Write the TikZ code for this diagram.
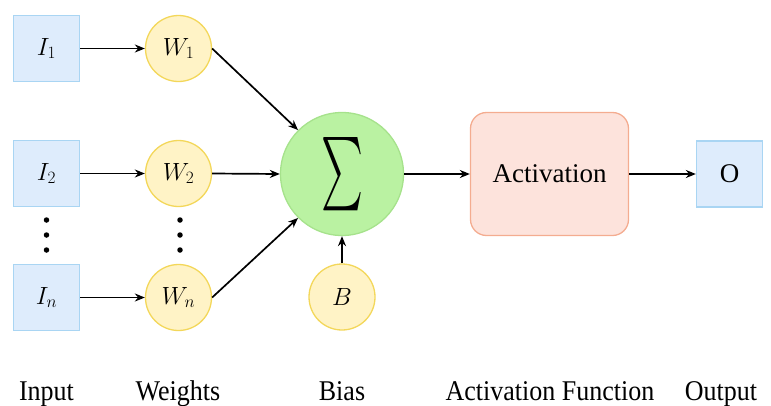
\documentclass[tikz,border=0pt]{standalone}
\usepackage{fontspec}
\setmainfont{Liberation Serif}
\usetikzlibrary{arrows.meta}
\definecolor{bfill}{HTML}{DEECFC}
\definecolor{bdraw}{HTML}{A9D5F3}
\definecolor{yfill}{HTML}{FFF3C6}
\definecolor{ydraw}{HTML}{F3D75A}
\definecolor{gfill}{HTML}{BAF2A2}
\definecolor{gdraw}{HTML}{A6E28C}
\definecolor{rfill}{HTML}{FDE3DC}
\definecolor{rdraw}{HTML}{F4AC90}
\tikzset{
  x=1pt, y=-1pt,
  inbox/.style={draw=bdraw, fill=bfill, line width=1.3pt, minimum width=66pt, minimum height=66pt, inner sep=0pt, font=\fontsize{25}{25}\selectfont},
  wcirc/.style={circle, draw=ydraw, fill=yfill, line width=1.3pt, minimum size=66pt, inner sep=0pt, font=\fontsize{25}{25}\selectfont},
  scirc/.style={circle, draw=gdraw, fill=gfill, line width=1.3pt, minimum size=123pt, inner sep=0pt},
  actbox/.style={draw=rdraw, fill=rfill, line width=1.3pt, rounded corners=16pt, minimum width=158pt, minimum height=123pt, inner sep=0pt, font=\fontsize{27}{27}\selectfont},
  lbl/.style={anchor=base, inner sep=0pt, font=\fontsize{26}{26}\selectfont},
  arr/.style={-{Stealth[length=10pt,width=8pt]}, line width=1.7pt, black},
  dotc/.style={circle, fill=black, inner sep=0pt, minimum size=5.5pt},
}
\begin{document}
\begin{tikzpicture}
\useasboundingbox (0,0) rectangle (771,405);
\node[inbox] (I1) at (46.5,48.5) {$I_1$};
\node[inbox] (I2) at (46.5,173.5) {$I_2$};
\node[inbox] (In) at (46.5,297.5) {$I_n$};
\node[wcirc] (W1) at (178.5,48.5) {$W_1$};
\node[wcirc] (W2) at (178.5,173.5) {$W_2$};
\node[wcirc] (Wn) at (178.5,297.5) {$W_n$};
\node[scirc] (S) at (342,174) {\resizebox{42pt}{55pt}{$\sum$}};
\node[wcirc] (B) at (342,297) {$B$};
\node[actbox] (A) at (549.5,174) {Activation};
\node[inbox, font=\fontsize{27}{27}\selectfont] (O) at (729.5,174) {O};
\node[dotc] (d1) at (46.5,220) {};
\node[dotc] (d2) at (46.5,235) {};
\node[dotc] (d3) at (46.5,250) {};
\node[dotc] (e1) at (180,220) {};
\node[dotc] (e2) at (180,235) {};
\node[dotc] (e3) at (180,250) {};
\draw[arr] (I1) -- (W1);
\draw[arr] (I2) -- (W2);
\draw[arr] (In) -- (Wn);
\draw[arr] (W1.east) -- (S.135);
\draw[arr] (W2.east) -- (S.west);
\draw[arr] (Wn.east) -- (S.225);
\draw[arr] (B.north) -- (S.south);
\draw[arr] (S.east) -- (A.west);
\draw[arr] (A.east) -- (O.west);
\node[lbl] (L1) at (46.5,400) {\scalebox{1}[1.1]{Input}};
\node[lbl] (L2) at (178,400) {\scalebox{1}[1.1]{Weights}};
\node[lbl] (L3) at (342,400) {\scalebox{1}[1.1]{Bias}};
\node[lbl] (L4) at (550,400) {\scalebox{1}[1.1]{Activation Function}};
\node[lbl] (L5) at (721,400) {\scalebox{1}[1.1]{Output}};
\end{tikzpicture}
\end{document}
